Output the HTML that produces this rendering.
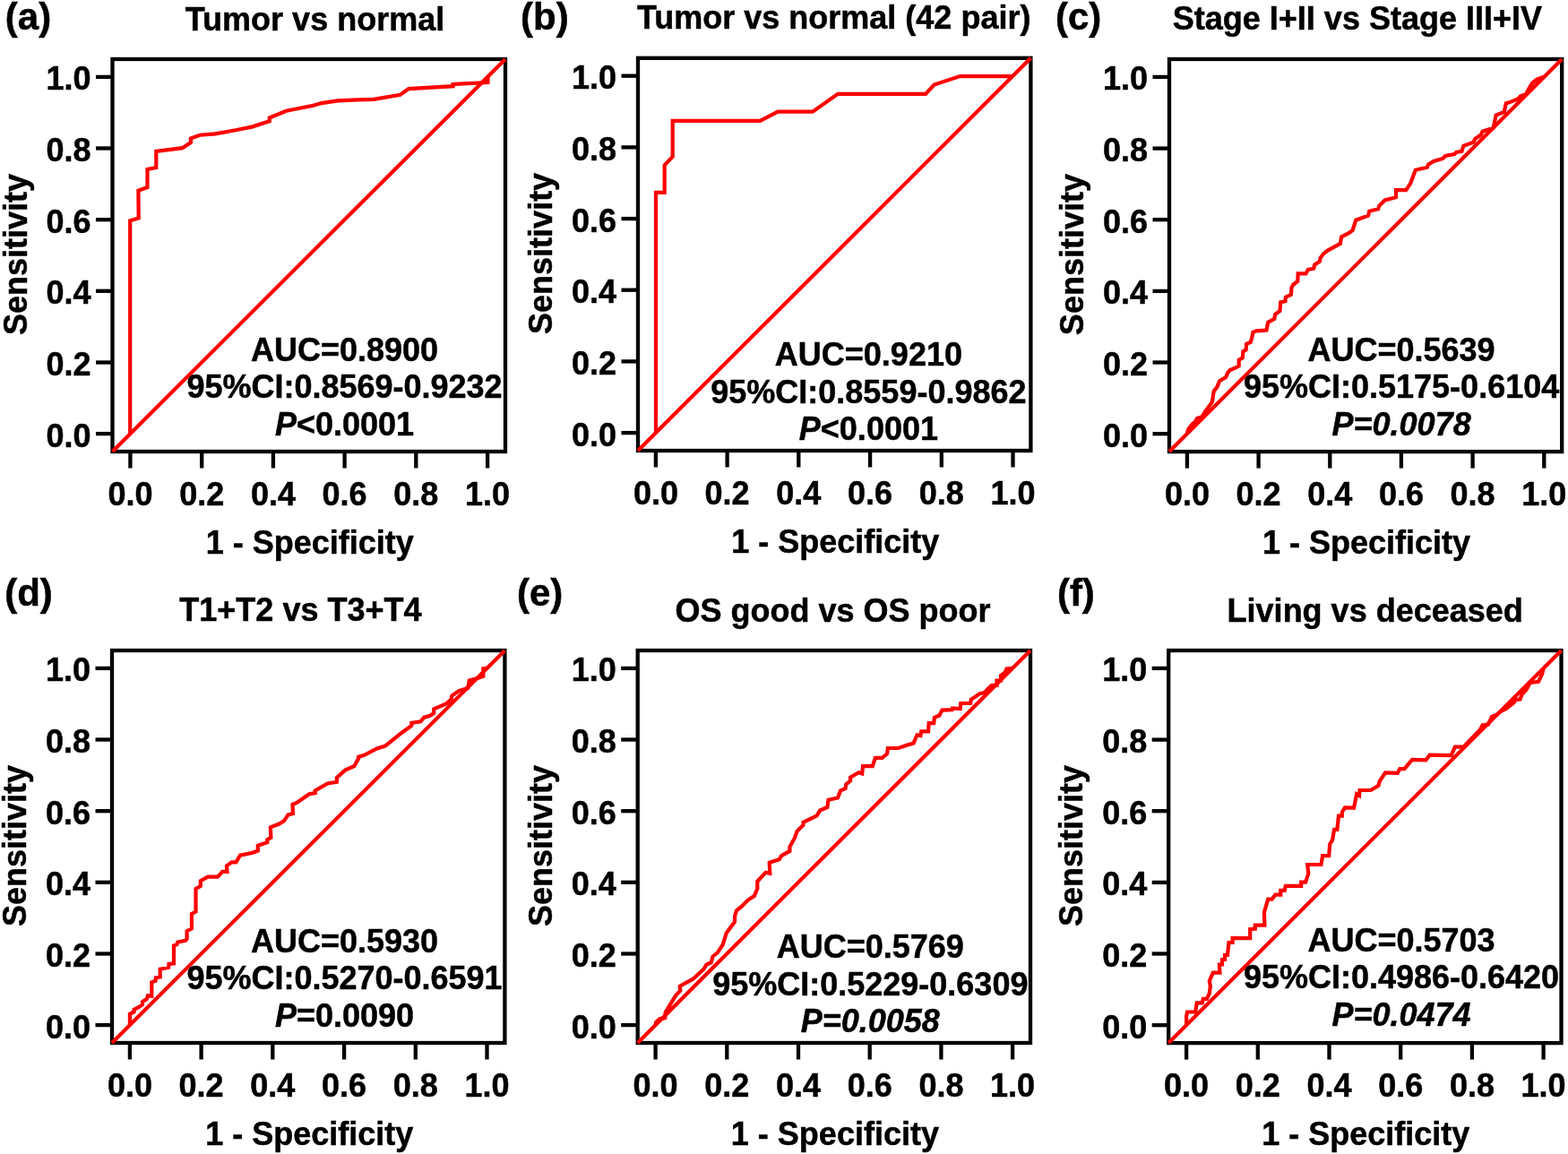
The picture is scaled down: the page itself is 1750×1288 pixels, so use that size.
<!DOCTYPE html>
<html><head><meta charset="utf-8"><title>ROC curves</title>
<style>
html,body{margin:0;padding:0;background:#fff;}
svg{display:block;}
.t{font-family:"Liberation Sans", Arial, sans-serif;font-weight:bold;font-size:36px;fill:#000;stroke:#000;stroke-width:0.5px;}
.lab{font-family:"Liberation Sans", Arial, sans-serif;font-weight:bold;font-size:42px;fill:#000;stroke:#000;stroke-width:0.5px;}
</style></head>
<body>
<svg width="1750" height="1288" viewBox="0 0 1750 1288">
<rect width="1750" height="1288" fill="#fff"/>
<g><rect x="125.5" y="66" width="438.5" height="438.0" fill="none" stroke="#000" stroke-width="4.3"/>
<path d="M145.2,484.5 L145.2,246.2 L154.7,243.4 L154.4,212.7 L164.5,209.0 L164.5,188.9 L174.3,187.0 L174.3,168.9 L203.6,165.2 L212.9,159.1 L212.9,154.4 L223.2,150.7 L240.0,149.4 L262.9,145.3 L281.1,141.6 L300.8,135.2 L300.8,131.5 L319.5,123.8 L349.7,117.8 L358.9,115.1 L377.1,112.3 L400.0,111.4 L417.2,110.8 L446.8,105.7 L456.1,99.1 L505.6,96.2 L505.6,94.1 L544.5,92.1 L544.5,86.0" fill="none" stroke="#ff0000" stroke-width="4.2" stroke-linejoin="miter" stroke-miterlimit="3"/>
<line x1="125.5" y1="504" x2="564" y2="66" stroke="#ff0000" stroke-width="4.2"/>
<line x1="107.0" y1="484.1" x2="125.5" y2="484.1" stroke="#000" stroke-width="4.3"/>
<line x1="145.4" y1="504.0" x2="145.4" y2="522.5" stroke="#000" stroke-width="4.3"/>
<text x="101.5" y="498.6" text-anchor="end" class="t">0.0</text>
<text x="145.4" y="563.5" text-anchor="middle" class="t">0.0</text>
<line x1="107.0" y1="404.5" x2="125.5" y2="404.5" stroke="#000" stroke-width="4.3"/>
<line x1="225.2" y1="504.0" x2="225.2" y2="522.5" stroke="#000" stroke-width="4.3"/>
<text x="101.5" y="419.0" text-anchor="end" class="t">0.2</text>
<text x="225.2" y="563.5" text-anchor="middle" class="t">0.2</text>
<line x1="107.0" y1="324.8" x2="125.5" y2="324.8" stroke="#000" stroke-width="4.3"/>
<line x1="304.9" y1="504.0" x2="304.9" y2="522.5" stroke="#000" stroke-width="4.3"/>
<text x="101.5" y="339.3" text-anchor="end" class="t">0.4</text>
<text x="304.9" y="563.5" text-anchor="middle" class="t">0.4</text>
<line x1="107.0" y1="245.2" x2="125.5" y2="245.2" stroke="#000" stroke-width="4.3"/>
<line x1="384.6" y1="504.0" x2="384.6" y2="522.5" stroke="#000" stroke-width="4.3"/>
<text x="101.5" y="259.7" text-anchor="end" class="t">0.6</text>
<text x="384.6" y="563.5" text-anchor="middle" class="t">0.6</text>
<line x1="107.0" y1="165.5" x2="125.5" y2="165.5" stroke="#000" stroke-width="4.3"/>
<line x1="464.3" y1="504.0" x2="464.3" y2="522.5" stroke="#000" stroke-width="4.3"/>
<text x="101.5" y="180.0" text-anchor="end" class="t">0.8</text>
<text x="464.3" y="563.5" text-anchor="middle" class="t">0.8</text>
<line x1="107.0" y1="85.9" x2="125.5" y2="85.9" stroke="#000" stroke-width="4.3"/>
<line x1="544.1" y1="504.0" x2="544.1" y2="522.5" stroke="#000" stroke-width="4.3"/>
<text x="101.5" y="100.4" text-anchor="end" class="t">1.0</text>
<text x="544.1" y="563.5" text-anchor="middle" class="t">1.0</text>
<text x="345.8" y="617.5" text-anchor="middle" class="t">1 - Specificity</text>
<text transform="translate(29.5,284.0) rotate(-90)" x="0" y="0" text-anchor="middle" class="t">Sensitivity</text>
<text x="384.5" y="402.8" text-anchor="middle" class="t">AUC=0.8900</text>
<text x="384.5" y="444.4" text-anchor="middle" class="t">95%CI:0.8569-0.9232</text>
<text x="384.5" y="485.9" text-anchor="middle" class="t"><tspan font-style="italic">P</tspan><tspan>&lt;0.0001</tspan></text>
<text x="5.8" y="33" class="lab">(a)</text>
<text x="351.5" y="33.9" text-anchor="middle" class="t">Tumor vs normal</text></g>
<g><rect x="712" y="64.8" width="438.4" height="438.2" fill="none" stroke="#000" stroke-width="4.3"/>
<path d="M732.0,483.5 L732.0,214.8 L741.7,214.8 L741.7,184.4 L750.7,175.0 L750.7,134.9 L848.4,134.9 L868.2,124.7 L907.0,124.7 L935.1,104.9 L1033.1,104.9 L1042.6,94.5 L1071.5,85.1 L1130.6,85.1" fill="none" stroke="#ff0000" stroke-width="4.2" stroke-linejoin="miter" stroke-miterlimit="3"/>
<line x1="712" y1="503" x2="1150.4" y2="64.8" stroke="#ff0000" stroke-width="4.2"/>
<line x1="693.5" y1="483.1" x2="712.0" y2="483.1" stroke="#000" stroke-width="4.3"/>
<line x1="731.9" y1="503.0" x2="731.9" y2="521.5" stroke="#000" stroke-width="4.3"/>
<text x="688.0" y="497.6" text-anchor="end" class="t">0.0</text>
<text x="731.9" y="562.5" text-anchor="middle" class="t">0.0</text>
<line x1="693.5" y1="403.4" x2="712.0" y2="403.4" stroke="#000" stroke-width="4.3"/>
<line x1="811.6" y1="503.0" x2="811.6" y2="521.5" stroke="#000" stroke-width="4.3"/>
<text x="688.0" y="417.9" text-anchor="end" class="t">0.2</text>
<text x="811.6" y="562.5" text-anchor="middle" class="t">0.2</text>
<line x1="693.5" y1="323.7" x2="712.0" y2="323.7" stroke="#000" stroke-width="4.3"/>
<line x1="891.3" y1="503.0" x2="891.3" y2="521.5" stroke="#000" stroke-width="4.3"/>
<text x="688.0" y="338.2" text-anchor="end" class="t">0.4</text>
<text x="891.3" y="562.5" text-anchor="middle" class="t">0.4</text>
<line x1="693.5" y1="244.1" x2="712.0" y2="244.1" stroke="#000" stroke-width="4.3"/>
<line x1="971.1" y1="503.0" x2="971.1" y2="521.5" stroke="#000" stroke-width="4.3"/>
<text x="688.0" y="258.6" text-anchor="end" class="t">0.6</text>
<text x="971.1" y="562.5" text-anchor="middle" class="t">0.6</text>
<line x1="693.5" y1="164.4" x2="712.0" y2="164.4" stroke="#000" stroke-width="4.3"/>
<line x1="1050.8" y1="503.0" x2="1050.8" y2="521.5" stroke="#000" stroke-width="4.3"/>
<text x="688.0" y="178.9" text-anchor="end" class="t">0.8</text>
<text x="1050.8" y="562.5" text-anchor="middle" class="t">0.8</text>
<line x1="693.5" y1="84.7" x2="712.0" y2="84.7" stroke="#000" stroke-width="4.3"/>
<line x1="1130.5" y1="503.0" x2="1130.5" y2="521.5" stroke="#000" stroke-width="4.3"/>
<text x="688.0" y="99.2" text-anchor="end" class="t">1.0</text>
<text x="1130.5" y="562.5" text-anchor="middle" class="t">1.0</text>
<text x="932.2" y="616.5" text-anchor="middle" class="t">1 - Specificity</text>
<text transform="translate(616.0,282.9) rotate(-90)" x="0" y="0" text-anchor="middle" class="t">Sensitivity</text>
<text x="969.4" y="408.1" text-anchor="middle" class="t">AUC=0.9210</text>
<text x="969.4" y="449.7" text-anchor="middle" class="t">95%CI:0.8559-0.9862</text>
<text x="969.4" y="491.2" text-anchor="middle" class="t"><tspan font-style="italic">P</tspan><tspan>&lt;0.0001</tspan></text>
<text x="581.0" y="32.7" class="lab">(b)</text>
<text x="930.7" y="31.7" text-anchor="middle" class="t">Tumor vs normal (42 pair)</text></g>
<g><rect x="1305" y="66" width="438.2" height="438.1" fill="none" stroke="#000" stroke-width="4.3"/>
<path d="M1324.9,484.2 L1326.0,479.5 L1331.0,473.0 L1334.0,470.5 L1336.0,467.0 L1341.5,465.3 L1345.0,459.4 L1352.7,449.0 L1354.8,436.3 L1358.3,432.1 L1361.1,425.1 L1368.1,421.0 L1370.2,416.1 L1372.5,413.2 L1379.0,410.4 L1382.7,408.5 L1382.7,401.6 L1386.9,399.2 L1387.4,392.2 L1390.6,390.4 L1391.1,383.9 L1395.7,382.0 L1397.1,377.3 L1398.5,370.8 L1402.3,369.4 L1408.8,368.9 L1413.4,368.5 L1415.3,359.6 L1422.3,355.9 L1423.2,350.8 L1428.4,347.1 L1429.3,337.3 L1434.4,336.3 L1434.9,331.7 L1440.9,328.9 L1441.4,321.4 L1443.3,317.7 L1448.3,314.0 L1448.7,305.3 L1457.4,305.3 L1459.9,301.0 L1466.1,299.8 L1467.3,295.4 L1472.9,291.7 L1473.5,288.0 L1477.3,283.0 L1482.2,279.3 L1495.9,271.8 L1497.1,264.3 L1505.8,260.0 L1509.6,256.9 L1513.3,245.7 L1527.0,240.7 L1528.2,235.8 L1538.1,233.3 L1539.4,229.6 L1545.6,223.4 L1558.0,220.2 L1558.0,212.2 L1569.2,212.2 L1574.2,204.7 L1576.0,199.8 L1579.8,189.8 L1592.8,186.7 L1594.0,183.6 L1600.1,180.0 L1610.2,177.0 L1613.2,174.0 L1623.3,172.0 L1625.3,170.0 L1631.4,168.9 L1633.4,162.9 L1644.5,158.8 L1646.5,154.8 L1652.6,150.8 L1654.6,146.7 L1666.7,142.7 L1669.7,128.5 L1678.8,125.0 L1680.8,115.4 L1686.9,113.4 L1694.0,110.4 L1697.0,107.3 L1703.0,105.3 L1706.1,99.3 L1710.1,92.7 L1715.2,88.7 L1720.2,86.7 L1723.1,85.9" fill="none" stroke="#ff0000" stroke-width="4.2" stroke-linejoin="miter" stroke-miterlimit="3"/>
<line x1="1305" y1="504.1" x2="1743.2" y2="66" stroke="#ff0000" stroke-width="4.2"/>
<line x1="1286.5" y1="484.2" x2="1305.0" y2="484.2" stroke="#000" stroke-width="4.3"/>
<line x1="1324.9" y1="504.1" x2="1324.9" y2="522.6" stroke="#000" stroke-width="4.3"/>
<text x="1281.0" y="498.7" text-anchor="end" class="t">0.0</text>
<text x="1324.9" y="563.6" text-anchor="middle" class="t">0.0</text>
<line x1="1286.5" y1="404.5" x2="1305.0" y2="404.5" stroke="#000" stroke-width="4.3"/>
<line x1="1404.6" y1="504.1" x2="1404.6" y2="522.6" stroke="#000" stroke-width="4.3"/>
<text x="1281.0" y="419.0" text-anchor="end" class="t">0.2</text>
<text x="1404.6" y="563.6" text-anchor="middle" class="t">0.2</text>
<line x1="1286.5" y1="324.9" x2="1305.0" y2="324.9" stroke="#000" stroke-width="4.3"/>
<line x1="1484.3" y1="504.1" x2="1484.3" y2="522.6" stroke="#000" stroke-width="4.3"/>
<text x="1281.0" y="339.4" text-anchor="end" class="t">0.4</text>
<text x="1484.3" y="563.6" text-anchor="middle" class="t">0.4</text>
<line x1="1286.5" y1="245.2" x2="1305.0" y2="245.2" stroke="#000" stroke-width="4.3"/>
<line x1="1563.9" y1="504.1" x2="1563.9" y2="522.6" stroke="#000" stroke-width="4.3"/>
<text x="1281.0" y="259.7" text-anchor="end" class="t">0.6</text>
<text x="1563.9" y="563.6" text-anchor="middle" class="t">0.6</text>
<line x1="1286.5" y1="165.6" x2="1305.0" y2="165.6" stroke="#000" stroke-width="4.3"/>
<line x1="1643.6" y1="504.1" x2="1643.6" y2="522.6" stroke="#000" stroke-width="4.3"/>
<text x="1281.0" y="180.1" text-anchor="end" class="t">0.8</text>
<text x="1643.6" y="563.6" text-anchor="middle" class="t">0.8</text>
<line x1="1286.5" y1="85.9" x2="1305.0" y2="85.9" stroke="#000" stroke-width="4.3"/>
<line x1="1723.3" y1="504.1" x2="1723.3" y2="522.6" stroke="#000" stroke-width="4.3"/>
<text x="1281.0" y="100.4" text-anchor="end" class="t">1.0</text>
<text x="1723.3" y="563.6" text-anchor="middle" class="t">1.0</text>
<text x="1525.1" y="617.6" text-anchor="middle" class="t">1 - Specificity</text>
<text transform="translate(1209.0,284.1) rotate(-90)" x="0" y="0" text-anchor="middle" class="t">Sensitivity</text>
<text x="1564.1" y="402.8" text-anchor="middle" class="t">AUC=0.5639</text>
<text x="1564.1" y="444.4" text-anchor="middle" class="t">95%CI:0.5175-0.6104</text>
<text x="1564.1" y="485.9" text-anchor="middle" class="t"><tspan font-style="italic">P</tspan><tspan font-style="italic">=0.0078</tspan></text>
<text x="1177.9" y="32.7" class="lab">(c)</text>
<text x="1514.9" y="32.6" text-anchor="middle" class="t">Stage I+II vs Stage III+IV</text></g>
<g><rect x="125" y="726" width="438.4" height="438.0" fill="none" stroke="#000" stroke-width="4.3"/>
<path d="M144.9,1144.1 L144.9,1131.8 L149.6,1129.2 L149.6,1126.7 L154.8,1124.1 L159.0,1121.1 L159.0,1118.1 L163.7,1115.1 L165.0,1111.3 L169.3,1111.7 L169.3,1096.4 L173.6,1094.7 L174.0,1091.2 L178.7,1090.4 L178.7,1081.8 L188.1,1079.7 L188.5,1075.9 L194.0,1075.4 L194.0,1055.4 L197.5,1054.1 L198.3,1051.5 L206.9,1049.8 L208.6,1047.9 L208.6,1039.2 L213.9,1036.3 L213.9,1020.0 L218.5,1017.6 L218.5,992.0 L223.8,989.1 L223.8,983.3 L231.9,978.6 L243.0,978.6 L248.2,972.8 L253.5,972.8 L252.9,966.4 L258.7,962.3 L263.4,962.3 L268.0,954.7 L282.0,951.8 L287.8,949.5 L287.8,943.7 L298.3,940.2 L298.3,937.3 L302.4,934.9 L301.8,923.3 L311.1,919.8 L317.0,916.3 L321.6,909.3 L327.0,908.0 L326.5,897.8 L331.2,895.9 L345.1,886.2 L351.7,885.2 L351.7,882.4 L365.6,874.5 L375.9,872.7 L375.9,868.0 L385.2,859.6 L395.4,855.0 L400.1,846.6 L400.1,844.7 L406.6,842.8 L420.6,835.4 L429.9,832.6 L448.5,817.7 L459.3,810.0 L459.3,806.9 L469.4,805.3 L473.3,800.7 L479.5,799.1 L484.2,796.0 L484.2,791.3 L498.1,785.5 L503.6,780.5 L504.3,776.6 L512.1,771.1 L522.2,768.0 L523.8,759.5 L532.3,757.2 L539.3,754.8 L539.3,746.3 L543.5,745.9" fill="none" stroke="#ff0000" stroke-width="4.2" stroke-linejoin="miter" stroke-miterlimit="3"/>
<line x1="125" y1="1164" x2="563.4" y2="726" stroke="#ff0000" stroke-width="4.2"/>
<line x1="106.5" y1="1144.1" x2="125.0" y2="1144.1" stroke="#000" stroke-width="4.3"/>
<line x1="144.9" y1="1164.0" x2="144.9" y2="1182.5" stroke="#000" stroke-width="4.3"/>
<text x="101.0" y="1158.6" text-anchor="end" class="t">0.0</text>
<text x="144.9" y="1223.5" text-anchor="middle" class="t">0.0</text>
<line x1="106.5" y1="1064.5" x2="125.0" y2="1064.5" stroke="#000" stroke-width="4.3"/>
<line x1="224.6" y1="1164.0" x2="224.6" y2="1182.5" stroke="#000" stroke-width="4.3"/>
<text x="101.0" y="1079.0" text-anchor="end" class="t">0.2</text>
<text x="224.6" y="1223.5" text-anchor="middle" class="t">0.2</text>
<line x1="106.5" y1="984.8" x2="125.0" y2="984.8" stroke="#000" stroke-width="4.3"/>
<line x1="304.3" y1="1164.0" x2="304.3" y2="1182.5" stroke="#000" stroke-width="4.3"/>
<text x="101.0" y="999.3" text-anchor="end" class="t">0.4</text>
<text x="304.3" y="1223.5" text-anchor="middle" class="t">0.4</text>
<line x1="106.5" y1="905.2" x2="125.0" y2="905.2" stroke="#000" stroke-width="4.3"/>
<line x1="384.1" y1="1164.0" x2="384.1" y2="1182.5" stroke="#000" stroke-width="4.3"/>
<text x="101.0" y="919.7" text-anchor="end" class="t">0.6</text>
<text x="384.1" y="1223.5" text-anchor="middle" class="t">0.6</text>
<line x1="106.5" y1="825.5" x2="125.0" y2="825.5" stroke="#000" stroke-width="4.3"/>
<line x1="463.8" y1="1164.0" x2="463.8" y2="1182.5" stroke="#000" stroke-width="4.3"/>
<text x="101.0" y="840.0" text-anchor="end" class="t">0.8</text>
<text x="463.8" y="1223.5" text-anchor="middle" class="t">0.8</text>
<line x1="106.5" y1="745.9" x2="125.0" y2="745.9" stroke="#000" stroke-width="4.3"/>
<line x1="543.5" y1="1164.0" x2="543.5" y2="1182.5" stroke="#000" stroke-width="4.3"/>
<text x="101.0" y="760.4" text-anchor="end" class="t">1.0</text>
<text x="543.5" y="1223.5" text-anchor="middle" class="t">1.0</text>
<text x="345.2" y="1277.5" text-anchor="middle" class="t">1 - Specificity</text>
<text transform="translate(29.0,944.0) rotate(-90)" x="0" y="0" text-anchor="middle" class="t">Sensitivity</text>
<text x="384.5" y="1062.8" text-anchor="middle" class="t">AUC=0.5930</text>
<text x="384.5" y="1104.4" text-anchor="middle" class="t">95%CI:0.5270-0.6591</text>
<text x="384.5" y="1145.9" text-anchor="middle" class="t"><tspan font-style="italic">P</tspan><tspan>=0.0090</tspan></text>
<text x="5.2" y="675.6" class="lab">(d)</text>
<text x="335.4" y="692.9" text-anchor="middle" class="t">T1+T2 vs T3+T4</text></g>
<g><rect x="711.7" y="726" width="438.3" height="438.0" fill="none" stroke="#000" stroke-width="4.3"/>
<path d="M731.6,1144.1 L732.1,1141.1 L736.1,1137.1 L742.2,1136.1 L742.7,1130.0 L754.3,1110.8 L759.3,1105.8 L758.8,1100.7 L773.4,1092.7 L785.5,1081.6 L788.6,1076.5 L793.6,1074.5 L795.6,1067.4 L800.7,1063.4 L806.7,1054.3 L810.8,1041.2 L819.9,1029.1 L820.2,1022.1 L822.0,1016.3 L827.8,1011.6 L834.8,1004.6 L841.8,1000.0 L845.3,991.8 L845.3,983.7 L854.6,973.8 L859.3,974.9 L858.7,962.7 L869.7,959.2 L872.1,955.1 L881.4,949.9 L881.4,945.2 L887.2,934.7 L889.5,927.8 L896.5,920.8 L896.5,917.9 L911.7,910.3 L915.2,904.5 L923.3,901.0 L924.5,892.8 L935.0,890.5 L938.1,882.4 L943.5,880.1 L944.3,875.4 L949.0,871.5 L949.0,867.7 L958.3,862.2 L962.2,863.4 L963.0,855.2 L973.8,855.2 L976.9,845.9 L984.7,845.9 L990.1,841.3 L990.9,835.0 L1002.6,835.0 L1012.7,831.5 L1019.6,829.6 L1023.5,820.3 L1027.4,821.1 L1028.2,816.4 L1036.0,816.4 L1036.7,807.1 L1042.2,807.1 L1042.9,800.9 L1048.4,798.5 L1051.5,792.6 L1062.5,792.1 L1063.0,790.4 L1071.7,791.0 L1072.3,785.0 L1083.2,785.0 L1083.7,780.7 L1088.0,777.9 L1093.5,774.1 L1098.9,773.0 L1103.8,767.6 L1107.1,764.9 L1112.5,764.9 L1112.5,759.5 L1117.0,759.5 L1117.0,754.0 L1121.7,750.5 L1123.4,746.5 L1130.1,745.9" fill="none" stroke="#ff0000" stroke-width="4.2" stroke-linejoin="miter" stroke-miterlimit="3"/>
<line x1="711.7" y1="1164" x2="1150" y2="726" stroke="#ff0000" stroke-width="4.2"/>
<line x1="693.2" y1="1144.1" x2="711.7" y2="1144.1" stroke="#000" stroke-width="4.3"/>
<line x1="731.6" y1="1164.0" x2="731.6" y2="1182.5" stroke="#000" stroke-width="4.3"/>
<text x="687.7" y="1158.6" text-anchor="end" class="t">0.0</text>
<text x="731.6" y="1223.5" text-anchor="middle" class="t">0.0</text>
<line x1="693.2" y1="1064.5" x2="711.7" y2="1064.5" stroke="#000" stroke-width="4.3"/>
<line x1="811.3" y1="1164.0" x2="811.3" y2="1182.5" stroke="#000" stroke-width="4.3"/>
<text x="687.7" y="1079.0" text-anchor="end" class="t">0.2</text>
<text x="811.3" y="1223.5" text-anchor="middle" class="t">0.2</text>
<line x1="693.2" y1="984.8" x2="711.7" y2="984.8" stroke="#000" stroke-width="4.3"/>
<line x1="891.0" y1="1164.0" x2="891.0" y2="1182.5" stroke="#000" stroke-width="4.3"/>
<text x="687.7" y="999.3" text-anchor="end" class="t">0.4</text>
<text x="891.0" y="1223.5" text-anchor="middle" class="t">0.4</text>
<line x1="693.2" y1="905.2" x2="711.7" y2="905.2" stroke="#000" stroke-width="4.3"/>
<line x1="970.7" y1="1164.0" x2="970.7" y2="1182.5" stroke="#000" stroke-width="4.3"/>
<text x="687.7" y="919.7" text-anchor="end" class="t">0.6</text>
<text x="970.7" y="1223.5" text-anchor="middle" class="t">0.6</text>
<line x1="693.2" y1="825.5" x2="711.7" y2="825.5" stroke="#000" stroke-width="4.3"/>
<line x1="1050.4" y1="1164.0" x2="1050.4" y2="1182.5" stroke="#000" stroke-width="4.3"/>
<text x="687.7" y="840.0" text-anchor="end" class="t">0.8</text>
<text x="1050.4" y="1223.5" text-anchor="middle" class="t">0.8</text>
<line x1="693.2" y1="745.9" x2="711.7" y2="745.9" stroke="#000" stroke-width="4.3"/>
<line x1="1130.1" y1="1164.0" x2="1130.1" y2="1182.5" stroke="#000" stroke-width="4.3"/>
<text x="687.7" y="760.4" text-anchor="end" class="t">1.0</text>
<text x="1130.1" y="1223.5" text-anchor="middle" class="t">1.0</text>
<text x="931.9" y="1277.5" text-anchor="middle" class="t">1 - Specificity</text>
<text transform="translate(615.7,944.0) rotate(-90)" x="0" y="0" text-anchor="middle" class="t">Sensitivity</text>
<text x="971.3" y="1069.1" text-anchor="middle" class="t">AUC=0.5769</text>
<text x="971.3" y="1110.7" text-anchor="middle" class="t">95%CI:0.5229-0.6309</text>
<text x="971.3" y="1152.2" text-anchor="middle" class="t"><tspan font-style="italic">P</tspan><tspan font-style="italic">=0.0058</tspan></text>
<text x="576.9" y="675.5" class="lab">(e)</text>
<text x="929.6" y="693.5" text-anchor="middle" class="t">OS good vs OS poor</text></g>
<g><rect x="1304.2" y="726" width="438.3" height="438.1" fill="none" stroke="#000" stroke-width="4.3"/>
<path d="M1324.1,1144.2 L1324.1,1134.0 L1325.1,1129.5 L1334.2,1129.5 L1335.7,1119.4 L1341.7,1119.4 L1342.8,1114.9 L1346.8,1114.9 L1349.8,1108.8 L1350.8,1100.7 L1349.8,1094.7 L1353.9,1085.6 L1361.4,1085.6 L1360.9,1076.5 L1364.0,1076.5 L1364.0,1071.0 L1367.0,1071.0 L1367.0,1066.0 L1370.0,1066.0 L1371.5,1052.0 L1375.6,1052.0 L1375.6,1047.2 L1395.2,1047.2 L1395.2,1037.2 L1400.8,1036.7 L1400.8,1032.6 L1411.4,1032.6 L1410.9,1018.3 L1415.2,1003.6 L1419.6,1003.6 L1423.4,998.7 L1429.3,998.7 L1429.3,993.8 L1433.7,993.8 L1434.8,988.9 L1452.2,988.9 L1452.2,984.6 L1457.1,984.6 L1460.3,974.8 L1459.2,965.0 L1474.5,965.0 L1476.1,955.2 L1483.2,955.2 L1484.2,942.2 L1487.0,937.8 L1489.1,925.9 L1492.4,925.9 L1494.0,910.7 L1497.8,910.7 L1497.8,906.3 L1501.1,901.4 L1511.1,901.6 L1514.1,886.3 L1517.1,888.0 L1517.5,882.0 L1529.9,882.0 L1538.4,876.9 L1539.7,872.2 L1546.1,862.4 L1559.8,862.8 L1562.4,858.1 L1567.5,858.1 L1576.0,847.8 L1591.4,848.3 L1595.7,842.7 L1619.6,843.1 L1623.9,833.7 L1633.3,833.7 L1652.0,814.5 L1654.5,809.5 L1661.0,808.5 L1665.0,800.0 L1671.0,797.5 L1674.7,794.0 L1681.6,790.7 L1689.6,784.2 L1691.4,781.0 L1696.5,780.5 L1698.9,774.4 L1703.5,769.8 L1707.7,761.9 L1717.0,760.9 L1721.2,752.1 L1722.6,745.9" fill="none" stroke="#ff0000" stroke-width="4.2" stroke-linejoin="miter" stroke-miterlimit="3"/>
<line x1="1304.2" y1="1164.1" x2="1742.5" y2="726" stroke="#ff0000" stroke-width="4.2"/>
<line x1="1285.7" y1="1144.2" x2="1304.2" y2="1144.2" stroke="#000" stroke-width="4.3"/>
<line x1="1324.1" y1="1164.1" x2="1324.1" y2="1182.6" stroke="#000" stroke-width="4.3"/>
<text x="1280.2" y="1158.7" text-anchor="end" class="t">0.0</text>
<text x="1324.1" y="1223.6" text-anchor="middle" class="t">0.0</text>
<line x1="1285.7" y1="1064.5" x2="1304.2" y2="1064.5" stroke="#000" stroke-width="4.3"/>
<line x1="1403.8" y1="1164.1" x2="1403.8" y2="1182.6" stroke="#000" stroke-width="4.3"/>
<text x="1280.2" y="1079.0" text-anchor="end" class="t">0.2</text>
<text x="1403.8" y="1223.6" text-anchor="middle" class="t">0.2</text>
<line x1="1285.7" y1="984.9" x2="1304.2" y2="984.9" stroke="#000" stroke-width="4.3"/>
<line x1="1483.5" y1="1164.1" x2="1483.5" y2="1182.6" stroke="#000" stroke-width="4.3"/>
<text x="1280.2" y="999.4" text-anchor="end" class="t">0.4</text>
<text x="1483.5" y="1223.6" text-anchor="middle" class="t">0.4</text>
<line x1="1285.7" y1="905.2" x2="1304.2" y2="905.2" stroke="#000" stroke-width="4.3"/>
<line x1="1563.2" y1="1164.1" x2="1563.2" y2="1182.6" stroke="#000" stroke-width="4.3"/>
<text x="1280.2" y="919.7" text-anchor="end" class="t">0.6</text>
<text x="1563.2" y="1223.6" text-anchor="middle" class="t">0.6</text>
<line x1="1285.7" y1="825.6" x2="1304.2" y2="825.6" stroke="#000" stroke-width="4.3"/>
<line x1="1642.9" y1="1164.1" x2="1642.9" y2="1182.6" stroke="#000" stroke-width="4.3"/>
<text x="1280.2" y="840.1" text-anchor="end" class="t">0.8</text>
<text x="1642.9" y="1223.6" text-anchor="middle" class="t">0.8</text>
<line x1="1285.7" y1="745.9" x2="1304.2" y2="745.9" stroke="#000" stroke-width="4.3"/>
<line x1="1722.6" y1="1164.1" x2="1722.6" y2="1182.6" stroke="#000" stroke-width="4.3"/>
<text x="1280.2" y="760.4" text-anchor="end" class="t">1.0</text>
<text x="1722.6" y="1223.6" text-anchor="middle" class="t">1.0</text>
<text x="1524.3" y="1277.6" text-anchor="middle" class="t">1 - Specificity</text>
<text transform="translate(1208.2,944.0) rotate(-90)" x="0" y="0" text-anchor="middle" class="t">Sensitivity</text>
<text x="1564.0" y="1061.7" text-anchor="middle" class="t">AUC=0.5703</text>
<text x="1564.0" y="1103.3" text-anchor="middle" class="t">95%CI:0.4986-0.6420</text>
<text x="1564.0" y="1144.8" text-anchor="middle" class="t"><tspan font-style="italic">P</tspan><tspan font-style="italic">=0.0474</tspan></text>
<text x="1179.9" y="675.7" class="lab">(f)</text>
<text x="1534.7" y="693.7" text-anchor="middle" class="t">Living vs deceased</text></g>
</svg>
</body></html>
